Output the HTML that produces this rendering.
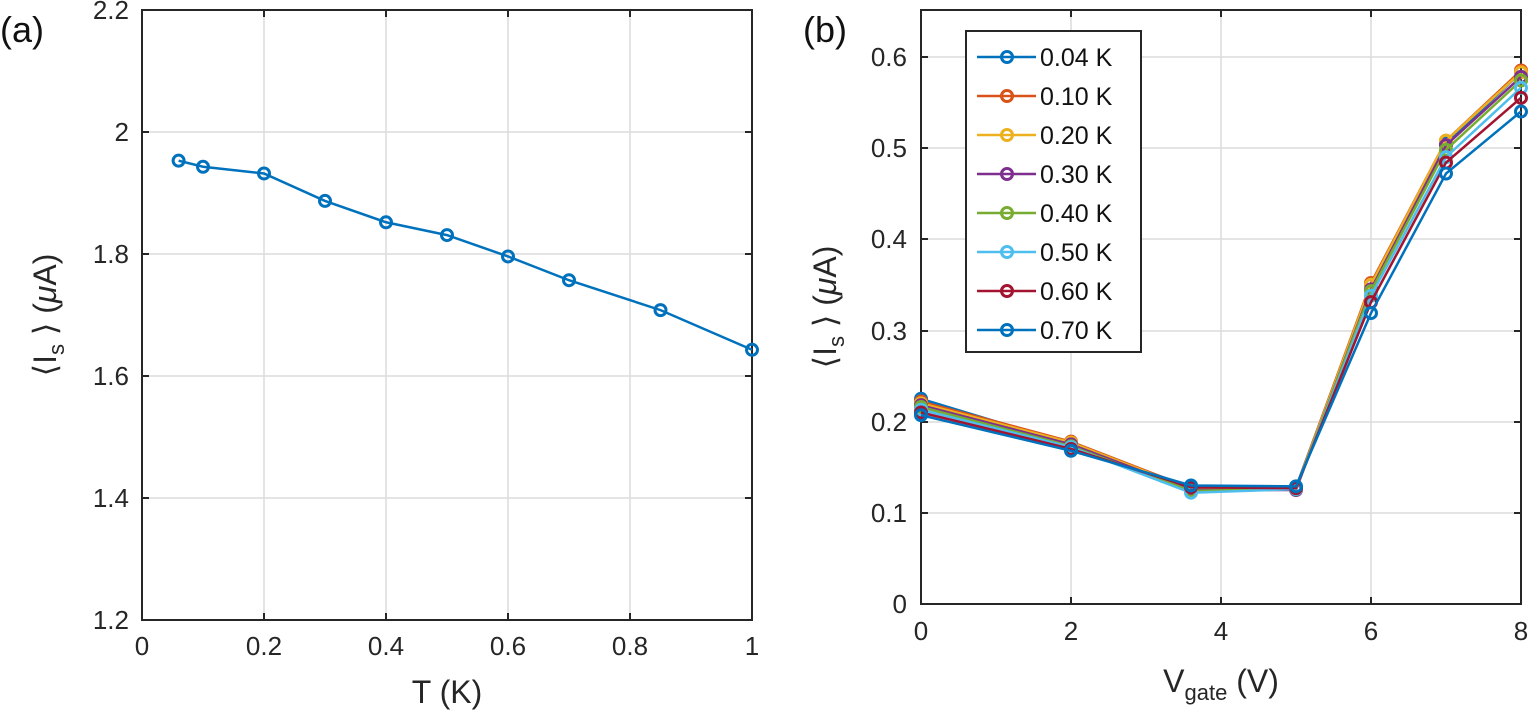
<!DOCTYPE html>
<html><head><meta charset="utf-8"><style>
body{margin:0;background:#fff;}
svg{display:block;font-family:"Liberation Sans",Arial,sans-serif;}
</style></head><body>
<svg id="s" width="1531" height="717" viewBox="0 0 1531 717">
<g id="grid" stroke="#dcdcdc" stroke-width="1.5" fill="none"></g>
<!-- Panel a -->
<rect x="142" y="10" width="610" height="610" fill="none" stroke="#262626" stroke-width="2"/>
<g font-size="26" fill="#262626" text-anchor="end">
<text x="129" y="19">2.2</text><text x="129" y="141">2</text><text x="129" y="263">1.8</text>
<text x="129" y="385">1.6</text><text x="129" y="507">1.4</text><text x="129" y="629">1.2</text>
</g>
<g font-size="26" fill="#262626" text-anchor="middle">
<text x="142" y="655">0</text><text x="264" y="655">0.2</text><text x="386" y="655">0.4</text>
<text x="508" y="655">0.6</text><text x="630" y="655">0.8</text><text x="752" y="655">1</text>
<text x="447" y="703" font-size="32">T (K)</text>
</g>
<text x="0" y="42" font-size="36" fill="#111">(a)</text>
<text transform="translate(56,315) rotate(-90)" text-anchor="middle" font-size="32" fill="#262626">⟨I<tspan font-size="22" dy="8">s</tspan><tspan dy="-8"> ⟩ (</tspan><tspan font-style="italic">μ</tspan>A)</text>
<!-- Panel b -->
<rect x="921" y="10" width="600" height="594" fill="none" stroke="#262626" stroke-width="2"/>
<g font-size="26" fill="#262626" text-anchor="end">
<text x="907" y="66">0.6</text><text x="907" y="157">0.5</text><text x="907" y="248">0.4</text>
<text x="907" y="340">0.3</text><text x="907" y="431">0.2</text><text x="907" y="522">0.1</text><text x="907" y="613">0</text>
</g>
<g font-size="26" fill="#262626" text-anchor="middle">
<text x="921" y="640">0</text><text x="1071" y="640">2</text><text x="1221" y="640">4</text>
<text x="1371" y="640">6</text><text x="1521" y="640">8</text>
</g>
<text x="1221" y="692" text-anchor="middle" font-size="32" fill="#262626">V<tspan font-size="22" dy="8">gate</tspan><tspan dy="-8"> (V)</tspan></text>
<text x="803" y="42" font-size="36" fill="#111">(b)</text>
<text transform="translate(836,307) rotate(-90)" text-anchor="middle" font-size="32" fill="#262626">⟨I<tspan font-size="22" dy="8">s</tspan><tspan dy="-8"> ⟩ (</tspan><tspan font-style="italic">μ</tspan>A)</text>
<g id="data"></g>
<rect x="966" y="31" width="175" height="321" fill="#fff" stroke="#262626" stroke-width="2"/>
<g id="leg"></g>
<g font-size="25" fill="#111">
<text x="1040" y="66">0.04 K</text><text x="1040" y="105">0.10 K</text><text x="1040" y="144">0.20 K</text>
<text x="1040" y="183">0.30 K</text><text x="1040" y="222">0.40 K</text><text x="1040" y="261">0.50 K</text>
<text x="1040" y="300">0.60 K</text><text x="1040" y="339">0.70 K</text>
</g>
</svg>
<script>
const NS="http://www.w3.org/2000/svg";
function el(p,t,a){const e=document.createElementNS(NS,t);for(const k in a)e.setAttribute(k,a[k]);p.appendChild(e);return e;}
const g=document.getElementById('grid');
[264,386,508,630].forEach(x=>el(g,'line',{x1:x,y1:10,x2:x,y2:620}));
[132,254,376,498].forEach(y=>el(g,'line',{x1:142,y1:y,x2:752,y2:y}));
[1071,1221,1371].forEach(x=>el(g,'line',{x1:x,y1:10,x2:x,y2:604}));
[57,148,239,331,422,513].forEach(y=>el(g,'line',{x1:921,y1:y,x2:1521,y2:y}));
const tk=el(g,'g',{stroke:'#262626','stroke-width':2});
[264,386,508,630].forEach(x=>{el(tk,'line',{x1:x,y1:620,x2:x,y2:613});el(tk,'line',{x1:x,y1:10,x2:x,y2:17});});
[132,254,376,498].forEach(y=>{el(tk,'line',{x1:142,y1:y,x2:149,y2:y});el(tk,'line',{x1:752,y1:y,x2:745,y2:y});});
[1071,1221,1371].forEach(x=>{el(tk,'line',{x1:x,y1:604,x2:x,y2:597});el(tk,'line',{x1:x,y1:10,x2:x,y2:17});});
[57,148,239,331,422,513].forEach(y=>{el(tk,'line',{x1:921,y1:y,x2:928,y2:y});el(tk,'line',{x1:1521,y1:y,x2:1514,y2:y});});
const d=document.getElementById('data');
function series(pts,c){el(d,'polyline',{points:pts.map(p=>p.join(',')).join(' '),fill:'none',stroke:c,'stroke-width':2.5});
pts.forEach(p=>el(d,'circle',{cx:p[0],cy:p[1],r:5.5,fill:'none',stroke:c,'stroke-width':3}));}
const A=[[0.06,1.953],[0.1,1.943],[0.2,1.932],[0.3,1.887],[0.4,1.852],[0.5,1.831],[0.6,1.796],[0.7,1.757],[0.85,1.708],[1.0,1.643]];
series(A.map(([x,v])=>[142+610*x,620-610*(v-1.2)]),'#0072BD');
const X=[0,2,3.6,5,6,7,8];
const B=[[0.225,0.175,0.128,0.128,0.350,0.505,0.583],[0.222,0.178,0.127,0.127,0.352,0.508,0.585],[0.220,0.177,0.126,0.126,0.350,0.508,0.583],[0.218,0.175,0.125,0.125,0.345,0.503,0.578],[0.216,0.173,0.124,0.126,0.343,0.498,0.574],[0.213,0.172,0.122,0.126,0.338,0.490,0.566],[0.210,0.170,0.128,0.127,0.331,0.484,0.555],[0.207,0.168,0.130,0.129,0.319,0.472,0.540]];
const C=['#0072BD','#D95319','#EDB120','#7E2F8E','#77AC30','#4DBEEE','#A2142F','#0072BD'];
B.forEach((s,i)=>series(s.map((v,j)=>[921+75*X[j],604-912*v]),C[i]));
const L=document.getElementById('leg');
C.forEach((c,i)=>{const y=57+39*i;el(L,'line',{x1:977,y1:y,x2:1036,y2:y,stroke:c,'stroke-width':2.5});el(L,'circle',{cx:1007,cy:y,r:5.5,fill:'none',stroke:c,'stroke-width':3});});
</script>
</body></html>
